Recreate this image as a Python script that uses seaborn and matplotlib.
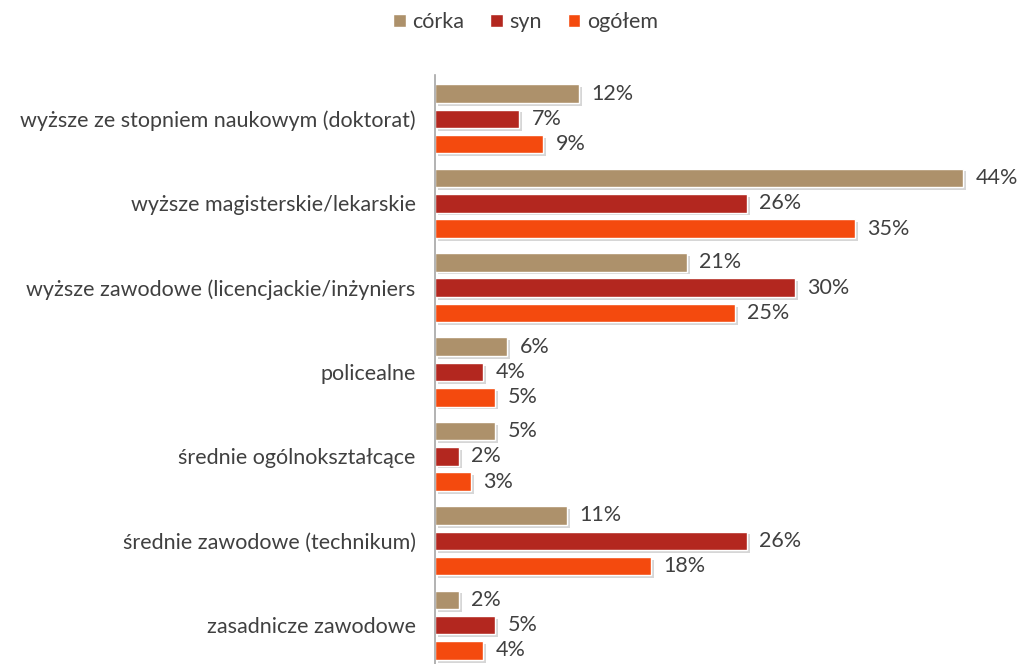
import pandas as pd
import seaborn as sns
import matplotlib.pyplot as plt
import matplotlib.patheffects as pe

# ------------------- data -------------------
kategorie = [
    "wyższe ze stopniem naukowym (doktorat)",
    "wyższe magisterskie/lekarskie",
    "wyższe zawodowe (licencjackie/inżyniers",
    "policealne",
    "średnie ogólnokształcące",
    "średnie zawodowe (technikum)",
    "zasadnicze zawodowe",
]
serie = ["córka", "syn", "ogółem"]
corka = [12, 44, 21, 6, 5, 11, 2]
syn = [7, 26, 30, 4, 2, 26, 5]
ogolem = [9, 35, 25, 5, 3, 18, 4]
kolory = ["#AD916B", "#B3271F", "#F44A0E"]

df = pd.DataFrame({
    "kategoria": kategorie * 3,
    "seria": [s for s in serie for _ in kategorie],
    "wartosc": corka + syn + ogolem,
})

# ------------------- plot -------------------
sns.set_style("white")
plt.rcParams['font.family'] = ['Lato', 'DejaVu Sans']

fig = plt.figure(figsize=(10.2, 6.64), dpi=100)
ax = fig.add_axes([435 / 1020, 0, 1 - 435 / 1020, 1 - 75 / 664])

sns.barplot(data=df, y="kategoria", x="wartosc", hue="seria", orient="h",
            palette=kolory, saturation=1, width=0.90, gap=0.27, ax=ax, legend=True)

shadow = [pe.SimplePatchShadow(offset=(2, -2), shadow_rgbFace="#999999", alpha=0.4), pe.Normal()]
for cont in ax.containers:
    for bar in cont:
        bar.set_path_effects(shadow)
    ax.bar_label(cont, fmt="%d%%", padding=9, fontsize=15.5, color="#404040")

ax.set_xlim(0, (1020 - 435) / 12)
ax.set_ylim(6.46, -0.52)
ax.set_xlabel("")
ax.set_ylabel("")
ax.set_xticks([])
ax.tick_params(axis="y", length=0, pad=14, labelsize=15.5, labelcolor="#404040")
for s in ["top", "right", "bottom"]:
    ax.spines[s].set_visible(False)
ax.spines["left"].set_color("#A6A6A6")
ax.spines["left"].set_linewidth(1.2)

handles, labels = ax.get_legend_handles_labels()
ax.get_legend().remove()
fig.legend(handles, labels, loc="center", bbox_to_anchor=(0.515, 1 - 22 / 664), ncol=3,
           frameon=False, fontsize=15.5, handlelength=0.6, handleheight=0.6,
           handletextpad=0.3, columnspacing=1.2, labelcolor="#404040")

plt.savefig("out.png", dpi=100)
